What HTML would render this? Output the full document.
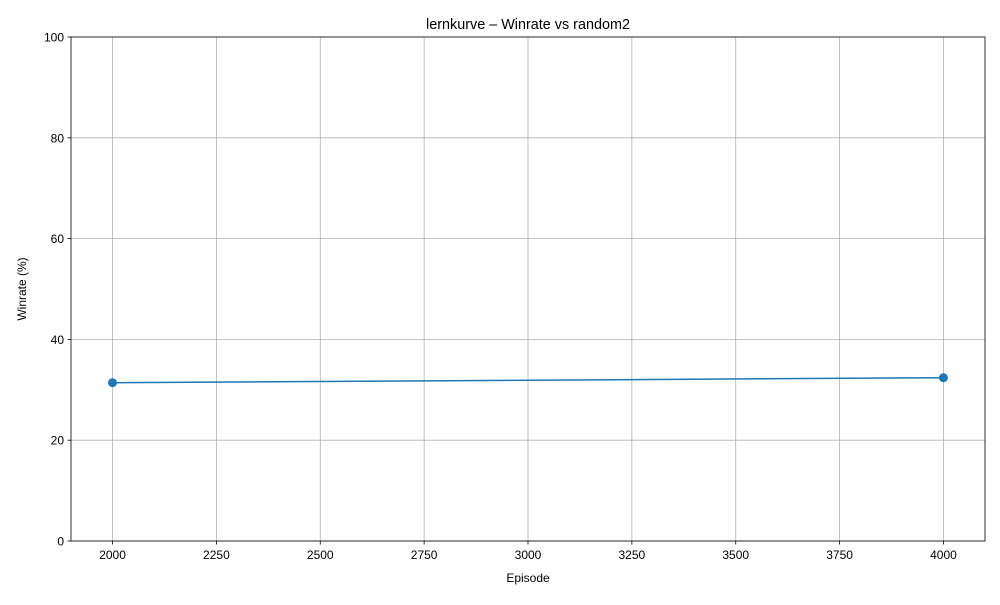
<!DOCTYPE html>
<html><head><meta charset="utf-8"><style>
body{margin:0;background:#fff;}
svg text{font-family:"Liberation Sans","DejaVu Sans",sans-serif;fill:#000;}
</style></head><body>
<svg id="chart" width="1000" height="600" xmlns="http://www.w3.org/2000/svg">
<rect width="1000" height="600" fill="#fff"/>
<g id="grid"></g>
<g id="axes"></g>
<g id="series"></g>
<text x="528" y="29" text-anchor="middle" font-size="14.4">lernkurve – Winrate vs random2</text>
<text x="528" y="582" text-anchor="middle" font-size="12">Episode</text>
<text transform="translate(26,289) rotate(-90)" text-anchor="middle" font-size="12">Winrate (%)</text>
</svg>
<script>
const episodes=[2000,4000];
const winrates=[31.4,32.4];
const xTicks=[2000,2250,2500,2750,3000,3250,3500,3750,4000];
const yTicks=[0,20,40,60,80,100];
const L=71,R=985,T=37,B=541;
const xMin=1900,xMax=4100,yMin=0,yMax=100;
const xs=v=>L+(v-xMin)/(xMax-xMin)*(R-L);
const ys=v=>B-(v-yMin)/(yMax-yMin)*(B-T);
const NS="http://www.w3.org/2000/svg";
function mk(tag,attrs,parent,txt){const e=document.createElementNS(NS,tag);for(const k in attrs)e.setAttribute(k,attrs[k]);if(txt!==undefined)e.textContent=txt;parent.appendChild(e);return e;}
const grid=document.getElementById('grid'),axes=document.getElementById('axes'),ser=document.getElementById('series');
xTicks.forEach(t=>{const x=xs(t);
 const g=mk('line',{x1:x,x2:x,y1:T,y2:B,stroke:'#b0b0b0','stroke-width':0.8},grid);
 
 
 mk('line',{x1:x,x2:x,y1:B,y2:B+3.5,stroke:'#000','stroke-width':0.8},axes);
 const l=mk('text',{x:x,y:B+18,'text-anchor':'middle','font-size':12},axes,String(t));
 
 });
yTicks.forEach(t=>{const y=ys(t);
 const g=mk('line',{x1:L,x2:R,y1:y,y2:y,stroke:'#b0b0b0','stroke-width':0.8},grid);
 
 
 mk('line',{x1:L-3.5,x2:L,y1:y,y2:y,stroke:'#000','stroke-width':0.8},axes);
 const l=mk('text',{x:L-7,y:y+4.5,'text-anchor':'end','font-size':12},axes,String(t));
 
 });
const frame=mk('rect',{x:L,y:T,width:R-L,height:B-T,fill:'none',stroke:'#000','stroke-width':0.8},axes);


const pts=episodes.map((e,i)=>xs(e)+','+ys(winrates[i])).join(' ');
const line=mk('polyline',{points:pts,fill:'none',stroke:'#1f77b4','stroke-width':1.5},ser);


episodes.forEach((e,i)=>{const c=mk('circle',{cx:xs(e),cy:ys(winrates[i]),r:4.5,fill:'#1f77b4'},ser);
 
 });
</script>
</body></html>
